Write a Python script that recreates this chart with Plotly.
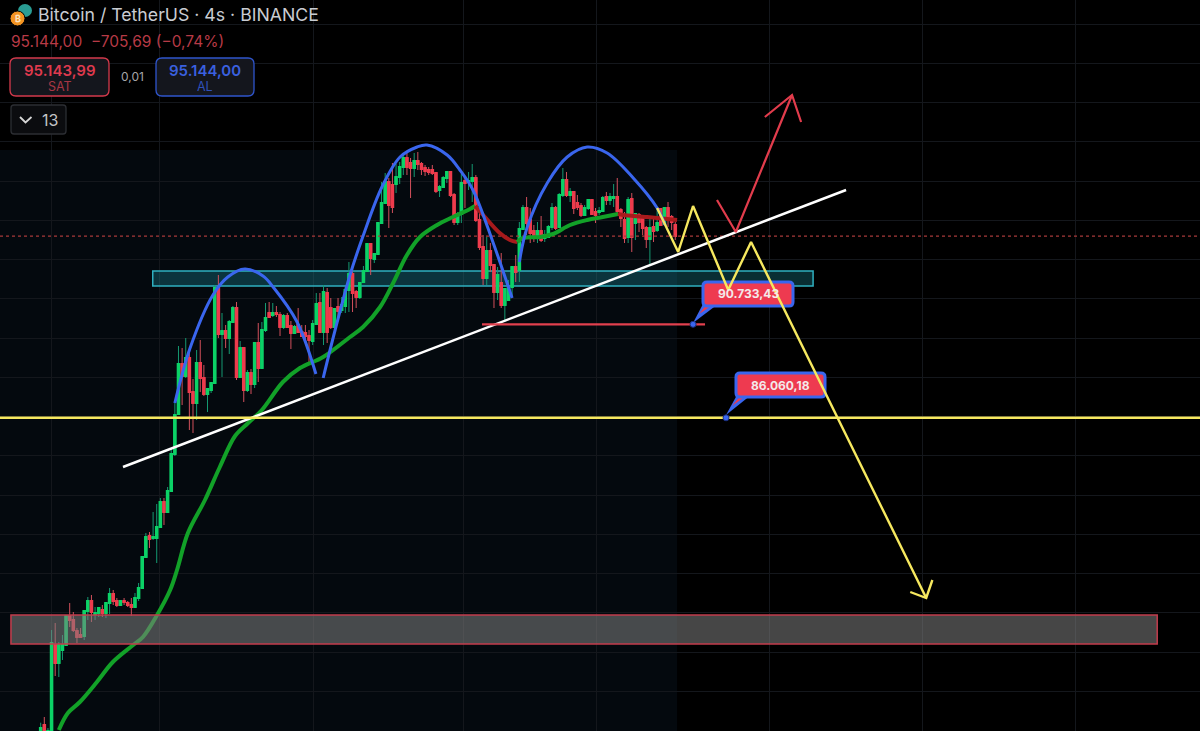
import plotly.graph_objects as go

W = 1200
H = 731

# 4h candles
bar_open = [70250, 70700, 69700, 69450, 74700, 73800, 74450, 74700, 76150, 75950, 75400, 75200, 75150, 76400, 76900, 76250,
            76300, 76450, 76300, 76800, 77250, 76900, 76700, 76900, 76800, 76700, 76600, 77050, 77550, 79100, 80150, 80050,
            80050, 80600, 81850, 81350, 82400, 84250, 86250, 88750, 88150, 89050, 87350, 86800, 88800, 88050, 87250, 87450,
            87800, 92550, 90250, 90400, 90050, 90850, 91550, 88100, 89550, 87450, 88300, 87750, 89800, 88550, 90450, 91300,
            91200, 91300, 91200, 90600, 91150, 90650, 90300, 90700, 90350, 90300, 90150, 89900, 90750, 91800, 90350, 92300,
            91550, 90600, 91600, 91450, 91650, 92450, 93250, 92350, 92100, 92850, 93400, 94750, 94000, 94250, 95800, 96800,
            97850, 97700, 97750, 98100, 98600, 99050, 98800, 98550, 98900, 98750, 98550, 98450, 98450, 98300, 97450, 97600,
            98050, 98350, 97200, 95850, 96250, 97900, 97850, 97900, 98050, 95950, 94600, 93050, 94400, 93700, 92350, 92800,
            91700, 91950, 92600, 93600, 93450, 95500, 96550, 95950, 95400, 95100, 95400, 95050, 95100, 95600, 96550, 95600,
            97200, 97950, 97200, 97350, 96800, 96650, 96200, 96550, 96950, 96350, 96350, 96400, 97100, 96950, 97050, 97100,
            96450, 95950, 95100, 97000, 95800, 96200, 96000, 95550, 95000, 95600, 95450, 96500, 95750, 96550, 96100, 95700]
bar_high = [70815, 71100, 70550, 75450, 75800, 74850, 75200, 76200, 76800, 76350, 75550, 75550, 76450, 77100, 77200, 76600,
            76550, 76700, 76850, 77550, 77450, 77050, 76950, 77050, 76900, 77050, 77300, 77800, 79100, 80300, 80350, 81350,
            81750, 82050, 82050, 82600, 84550, 86800, 89650, 89550, 90050, 89300, 88000, 89450, 89950, 88700, 87550, 87850,
            92700, 93200, 91300, 90700, 90950, 91650, 91850, 89900, 89600, 88450, 88500, 89850, 90800, 90850, 91800, 91850,
            91800, 91650, 91350, 91250, 91300, 90900, 90700, 91550, 90700, 90700, 90450, 90950, 92300, 92300, 92700, 92550,
            92050, 91550, 92050, 92100, 92600, 93850, 93550, 92450, 92850, 93650, 94800, 94800, 94300, 95850, 97850, 98300,
            98050, 98800, 98750, 98850, 99200, 99300, 99050, 99300, 99350, 98850, 98700, 98600, 98700, 98350, 97700, 98150,
            98350, 98350, 97300, 96350, 98250, 98150, 98350, 98750, 98200, 96450, 95200, 95100, 94800, 93750, 93600, 94300,
            92550, 92950, 93650, 94200, 95850, 96700, 97100, 96550, 95700, 95850, 96150, 95450, 95700, 96800, 96650, 97300,
            98550, 98350, 97550, 97350, 97200, 96800, 96700, 97000, 97000, 96550, 96600, 97150, 97350, 97300, 97750, 98050,
            96550, 96350, 97100, 97300, 96250, 96300, 96100, 95650, 96000, 96050, 96450, 96550, 96600, 96850, 96200, 95850]
bar_low = [70150, 69950, 69450, 69350, 73150, 73100, 73950, 74700, 75600, 75350, 74800, 75050, 74950, 75950, 75850, 75950,
           76100, 76100, 76050, 76250, 76700, 76600, 76650, 76700, 76600, 76150, 76550, 76900, 77550, 79100, 79550, 79950,
           78800, 80600, 80700, 81300, 82400, 84150, 86250, 86700, 88050, 85450, 85300, 85950, 87350, 87150, 86350, 87300,
           87750, 90050, 88100, 89550, 89250, 90800, 87950, 88050, 86850, 87350, 87250, 87550, 87850, 88550, 90350, 91050,
           91100, 91100, 90150, 90500, 90600, 89500, 90250, 90300, 90100, 90000, 88850, 89700, 90700, 90300, 89700, 89800,
           90500, 90550, 90950, 91300, 91300, 91350, 91350, 91550, 92000, 92800, 93350, 93200, 93800, 94200, 95750, 96750,
           95550, 96300, 97300, 97750, 98200, 98200, 97050, 98100, 98450, 98200, 98150, 98200, 98200, 97300, 97100, 97550,
           97800, 97100, 95700, 95700, 95800, 96550, 97450, 96850, 95850, 94450, 92700, 92700, 93350, 91550, 91950, 91550,
           90850, 91900, 92100, 92850, 92850, 95450, 95200, 94800, 94850, 94800, 94850, 94850, 95050, 95450, 95450, 95550,
           97100, 97100, 96850, 96250, 96450, 96100, 96150, 96450, 96200, 95800, 96200, 96350, 96700, 96700, 96600, 96200,
           95600, 94800, 94800, 94350, 94950, 95350, 95200, 94550, 93650, 94850, 95350, 95650, 95700, 95600, 95450, 94950]
bar_close = [70550, 70200, 70400, 74800, 73800, 74700, 74700, 76150, 75950, 75450, 75100, 75100, 76400, 76900, 76350, 76300,
             76550, 76300, 76800, 77250, 76900, 76700, 76900, 76850, 76700, 76600, 77050, 77550, 79100, 80100, 80000, 80100,
             80600, 81850, 81350, 82400, 84250, 86200, 88750, 88150, 89050, 87350, 86800, 88800, 88050, 87250, 87500, 87800,
             92550, 90250, 90400, 90050, 90850, 91550, 88100, 89550, 87450, 88300, 87750, 89800, 88550, 90450, 91050, 91100,
             91300, 91250, 90600, 91150, 90600, 90300, 90600, 90350, 90150, 90150, 89950, 90750, 91750, 90350, 92350, 90350,
             90600, 91500, 91400, 91700, 92450, 93250, 92300, 92100, 92800, 93400, 94750, 94050, 94250, 95800, 96800, 97850,
             96700, 96600, 98100, 98600, 99050, 98600, 98550, 98900, 98750, 98500, 98400, 98350, 98300, 97400, 97600, 98050,
             98350, 97200, 95850, 96250, 97800, 97800, 97900, 98050, 95950, 94600, 93050, 94400, 93700, 92350, 93200, 91700,
             92500, 92550, 93600, 93350, 95500, 96550, 95800, 95300, 95100, 95400, 94950, 95200, 95600, 96550, 95550, 97200,
             97950, 97200, 97350, 96550, 96600, 96200, 96550, 96950, 96250, 96200, 96400, 97050, 96950, 97100, 97100, 96400,
             96050, 95050, 96950, 95100, 96250, 95850, 95550, 95000, 95550, 95400, 95800, 95700, 96550, 96050, 95850, 95144]
bar_index = list(range(len(bar_open)))

# moving average, green and red stretches
ma_up_x = [5, 7.5, 10.8, 15.5, 19.9, 25.5, 28.2, 32.1, 35.7, 37.6, 40.6, 45.3, 49.4, 53.6, 57.2, 61, 66.8, 71.5,
           77.9, 85.3, 88.9, 93.6, 97.2, 101, 104.6, 109.3, 113.7, 118.4, 119.8]
ma_up_y = [70450, 71300, 71850, 72850, 73850, 74700, 75100, 76200, 77450, 78450, 80300, 81950, 83600, 85150, 85800, 86450,
           87850, 88550, 89100, 90100, 90600, 91600, 92800, 94200, 95100, 95700, 96100, 96500, 96650]
ma_dip_x = [119.8, 122.5, 126.6, 129.4, 131.4]
ma_dip_y = [96650, 96100, 95300, 94950, 94850]
ma_up2_x = [131.4, 133, 137.7, 141.3, 146, 150.7, 155, 159.2]
ma_up2_y = [94850, 95050, 95100, 95250, 95700, 95950, 96100, 96250]
ma_dip2_x = [159.2, 160.6, 167.2, 175.5]
ma_dip2_y = [96250, 96200, 96100, 95950]

# drawings on the chart
arc1_x = [37, 41.2, 47.5, 51.6, 56.3, 61.3, 64.1, 70.7, 75.9]
arc1_y = [86800, 89550, 92200, 93100, 93500, 93150, 92600, 90850, 88250]
arc2_x = [77.9, 81.2, 85.3, 88.9, 94.1, 99.1, 103.8, 106.5, 112.1, 115.6, 119.2, 124.7, 130]
arc2_y = [88050, 90450, 93200, 95150, 97600, 99100, 99600, 99700, 99200, 98450, 97450, 94850, 92050]
arc3_x = [132, 134.1, 139.7, 145.2, 150.7, 156.2, 163.4, 170, 172.2]
arc3_y = [93850, 95550, 97800, 99100, 99600, 99300, 98050, 96550, 95700]
trend_x = [22.7, 222.1]
trend_y = [83600, 97450]
support_x = [121.7, 183.2]
support_y = [90733, 90733]
zigzag_x = [170, 175.8, 179.9, 189.6, 195.9, 244.2]
zigzag_y = [96550, 94350, 96650, 92450, 94850, 77050]
zighead_x = [239.8, 244.2, 245.9]
zighead_y = [77350, 77050, 77950]
up_x = [186.5, 191.7, 207.2]
up_y = [96950, 95350, 102200]
uphead_x = [199.7, 207.2, 209.7]
uphead_y = [101100, 102200, 100850]
dot_x = [179.9, 189]
dot_y = [90733, 86060]
yellow_level = 86060
last_price = 95144
teal_zone = [30.9, 213, 92650, 93400]
grey_zone = [-8.2, 307.9, 74750, 76200]
session_end = 175.5
session_top = 99450
grid_bars = [3.1, 32.9, 75.1, 116.7, 153.2, 201.1, 243.1, 285.3]

x_range = [-11.22, 319.7]
y_range = [70400, 106950]

GREEN = "#0bd266"
RED = "#ee3b4c"
BLUE = "#3a66ee"
YELLOW = "#f6e85f"
MA_GREEN = "#12a128"
MA_RED = "#a81a1c"


def px(x):
    return x / W


def py(y):
    return 1 - y / H


def dx(x):
    return x_range[0] + x / W * (x_range[1] - x_range[0])


def dy(y):
    return y_range[1] - y / H * (y_range[1] - y_range[0])


def round_box(x0, y0, x1, y1, r, fx=px, fy=py):
    # rounded rectangle from page pixels to a path
    a, b, c, d = fx(x0), fy(y0), fx(x1), fy(y1)
    rx = fx(x0 + r) - a
    ry = b - fy(y0 + r)
    return (f"M {a+rx} {b} L {c-rx} {b} Q {c} {b} {c} {b-ry} L {c} {d+ry} Q {c} {d} {c-rx} {d} "
            f"L {a+rx} {d} Q {a} {d} {a} {d+ry} L {a} {b-ry} Q {a} {b} {a+rx} {b} Z")


def poly(points, fx=dx, fy=dy):
    return "M " + " L ".join(f"{fx(x)} {fy(y)}" for x, y in points) + " Z"


def line_path(points):
    return "M " + " L ".join(f"{px(x)} {py(y)}" for x, y in points)


def paper_shape(path, fill="rgba(0,0,0,0)", line=None, width=1):
    return dict(type="path", xref="paper", yref="paper", path=path, fillcolor=fill, layer="above",
                line=dict(color=line or "rgba(0,0,0,0)", width=width))


def chart_shape(path, fill, line=None, width=1):
    # layer between keeps it above the grid and under the drawings
    return dict(type="path", xref="x", yref="y", path=path, fillcolor=fill, layer="between",
                line=dict(color=line or "rgba(0,0,0,0)", width=width))


def label(x, y, text, size, color, anchor="center", weight=400):
    return dict(xref="paper", yref="paper", x=px(x), y=py(y), text=text, showarrow=False,
                xanchor=anchor, yanchor="middle", font=dict(family="Inter", size=size, color=color, weight=weight))


def line_trace(x, y, color, width, shape="linear", dash="solid"):
    return go.Scatter(x=x, y=y, mode="lines", line=dict(color=color, width=width, shape=shape, dash=dash), hoverinfo="skip")


fig = go.Figure()
fig.add_trace(line_trace(x_range, [last_price, last_price], "#a83a3a", 1.2, dash="dot"))
# wicks first in a dim colour, bodies on top of them in the bright one
fig.add_trace(go.Candlestick(
    x=bar_index, open=bar_open, high=bar_high, low=bar_low, close=bar_close, whiskerwidth=0,
    increasing=dict(fillcolor="#159a72", line=dict(color="#159a72", width=1)),
    decreasing=dict(fillcolor="#d2505c", line=dict(color="#d2505c", width=1)),
    hoverinfo="skip",
))
fig.add_trace(go.Candlestick(
    x=bar_index, open=bar_open, close=bar_close, whiskerwidth=0,
    high=[max(o, c) for o, c in zip(bar_open, bar_close)],
    low=[min(o, c) for o, c in zip(bar_open, bar_close)],
    increasing=dict(fillcolor=GREEN, line=dict(color=GREEN, width=1.8)),
    decreasing=dict(fillcolor=RED, line=dict(color=RED, width=1.8)),
    hoverinfo="skip",
))
fig.add_trace(line_trace(ma_up_x, ma_up_y, MA_GREEN, 4, "spline"))
fig.add_trace(line_trace(ma_dip_x, ma_dip_y, MA_RED, 4, "spline"))
fig.add_trace(line_trace(ma_up2_x, ma_up2_y, MA_GREEN, 4, "spline"))
fig.add_trace(line_trace(ma_dip2_x, ma_dip2_y, MA_RED, 4, "spline"))
for ax, ay in [(arc1_x, arc1_y), (arc2_x, arc2_y), (arc3_x, arc3_y)]:
    fig.add_trace(line_trace(ax, ay, BLUE, 3, "spline"))
fig.add_trace(line_trace(trend_x, trend_y, "#ffffff", 2.5))
fig.add_trace(line_trace(support_x, support_y, "#e2404e", 2.2))
fig.add_trace(line_trace(x_range, [yellow_level, yellow_level], YELLOW, 2.4))
fig.add_trace(line_trace(zigzag_x, zigzag_y, YELLOW, 2.4))
fig.add_trace(line_trace(zighead_x, zighead_y, YELLOW, 2.4))
fig.add_trace(line_trace(up_x, up_y, "#e23c4c", 2.2))
fig.add_trace(line_trace(uphead_x, uphead_y, "#e23c4c", 2.2))
fig.add_trace(go.Scatter(x=dot_x, y=dot_y, mode="markers", marker=dict(color=BLUE, size=6, line=dict(color="#1a2f80", width=1)),
                         hoverinfo="skip"))

shapes = [
    dict(type="rect", x0=x_range[0], x1=session_end, y0=y_range[0], y1=session_top, layer="below",
         fillcolor="#04090e", line=dict(width=0)),
    dict(type="rect", x0=teal_zone[0], x1=teal_zone[1], y0=teal_zone[2], y1=teal_zone[3], layer="between",
         fillcolor="rgba(32,170,190,0.27)", line=dict(color="#2fb0c0", width=1.5)),
    dict(type="rect", x0=grey_zone[0], x1=grey_zone[1], y0=grey_zone[2], y1=grey_zone[3], layer="above",
         fillcolor="rgba(128,128,128,0.55)", line=dict(color="#c23c4c", width=1.5)),
    # price callouts
    chart_shape(poly([(693, 323), (703, 304), (718, 304)]), BLUE),
    chart_shape(poly([(699, 314), (707, 304), (714, 304)]), RED),
    chart_shape(round_box(703, 282, 793, 306, 4, dx, dy), "#ee3a50", BLUE, 3),
    chart_shape(poly([(726, 415), (737, 395), (751, 395)]), BLUE),
    chart_shape(poly([(732, 406), (741, 395), (747, 395)]), RED),
    chart_shape(round_box(736, 373, 825, 397, 4, dx, dy), "#ee3a50", BLUE, 3),
    # header
    dict(type="circle", xref="paper", yref="paper", x0=px(18), x1=px(32), y0=py(17), y1=py(4), fillcolor="#2a9d94", line=dict(width=0)),
    dict(type="circle", xref="paper", yref="paper", x0=px(10), x1=px(25), y0=py(26), y1=py(11), fillcolor="#f39322", line=dict(color="#000000", width=1)),
    paper_shape(round_box(10, 58, 109, 96, 6), "#14161d", "#d43a4c", 1.3),
    paper_shape(round_box(156, 58, 254, 96, 6), "#14161d", "#2f55cc", 1.3),
    paper_shape(round_box(11, 105, 66, 134, 3), "#0b0c0f", "#2c2e33", 1.3),
    paper_shape(line_path([(20, 117), (25.5, 122.5), (31.5, 117)]), line="#d6d6d6", width=1.8),
]

annotations = [
    label(36, 14.5, "Bitcoin / TetherUS · 4s · BINANCE", 17.7, "#c9ccd2", "left"),
    label(17.5, 18.5, "₿", 9, "#fbe3c0", weight=700),
    label(9, 41, "95.144,00&nbsp;&nbsp;−705,69 (−0,74%)", 15.5, "#b73a46", "left"),
    label(59.5, 70, "95.143,99", 15, "#df3a4e", weight=600),
    label(59.5, 87, "SAT", 12.5, "#a83644"),
    label(132, 77, "0,01", 12, "#a6a6a8"),
    label(205, 70, "95.144,00", 15, "#3a60df", weight=600),
    label(205, 87, "AL", 12.5, "#2f50b8"),
    label(50, 120, "13", 16, "#c4c4c6"),
    label(748, 293.5, "90.733,43", 12, "#f4e9ea", weight=700),
    label(780.5, 385, "86.060,18", 12, "#f4e9ea", weight=700),
]

fig.update_layout(
    width=W, height=H, margin=dict(l=0, r=0, t=0, b=0),
    paper_bgcolor="#000000", plot_bgcolor="#000000", boxgap=0.3,
    showlegend=False, shapes=shapes, annotations=annotations,
    xaxis=dict(range=x_range, rangeslider=dict(visible=False), tickvals=grid_bars, showticklabels=False, ticks="",
               showgrid=True, gridcolor="#14171c", gridwidth=1, zeroline=False),
    yaxis=dict(range=y_range, tick0=105750, dtick=1962.5, showticklabels=False, ticks="",
               showgrid=True, gridcolor="#14171c", gridwidth=1, zeroline=False),
)

fig.write_html("out.html", config=dict(displayModeBar=False),
               post_script="document.body.style.margin='0';document.body.style.background='#000';")
